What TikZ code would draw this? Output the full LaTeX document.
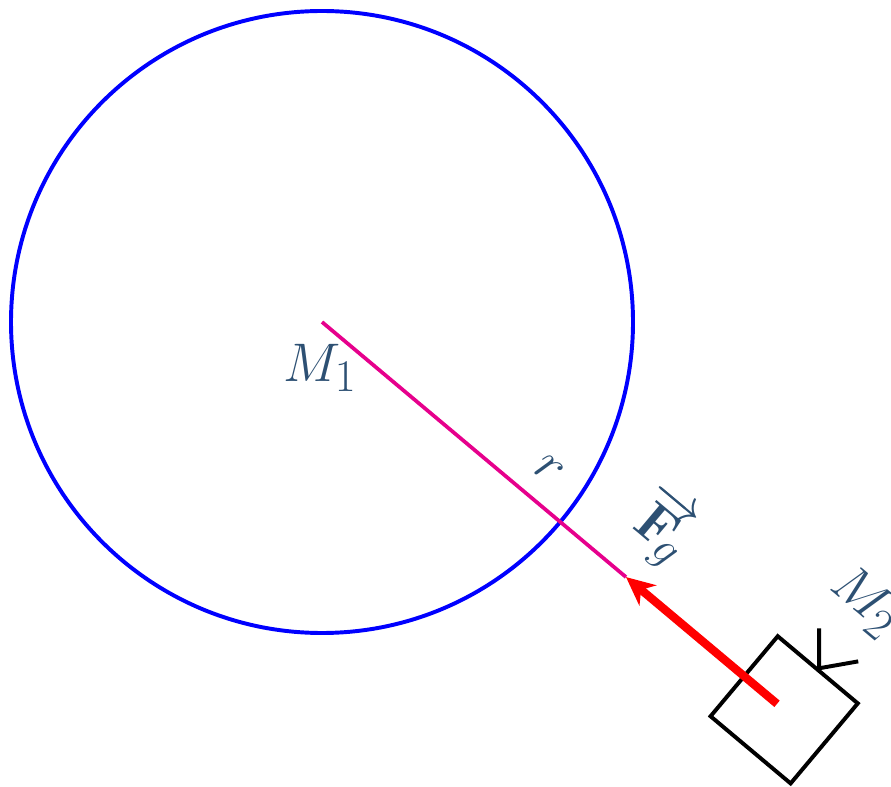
\documentclass[tikz,border=0pt]{standalone}
\usepackage{xcolor}
\usepackage{tikz}
\usetikzlibrary{arrows.meta,positioning,calc}

\definecolor{labelblue}{RGB}{45,80,115}
\definecolor{radline}{RGB}{230,0,140}

\tikzset{
  planet/.style={draw=blue, line width=1.8pt, circle, minimum size=10cm, inner sep=0pt},
  satbox/.style={draw=black, line width=1.8pt, minimum size=1.68cm, inner sep=0pt, rotate=-40},
  antenna/.style={draw=black, line width=1.8pt},
  radius line/.style={draw=radline, line width=1.7pt},
  force/.style={draw=red, line width=3.8pt, -{Stealth[length=13pt,width=12pt,inset=4pt]}},
  lbl/.style={text=labelblue, font=\Huge, rotate=-40},
}

\begin{document}
\begin{tikzpicture}
\useasboundingbox (-5.177,-7.460) rectangle (9.148,5.177);

% Planet
\coordinate (center) at (0,0);
\node[planet] (planet) at (center) {};
\node[text=labelblue, font=\Huge] (m1) at (-0.03,-0.74) {$M_1$};

% Satellite
\node[satbox] (sat) at (-40:9.7) {};
\draw[antenna] (sat.north) -- ++(90:0.64) (sat.north) -- ++(10:0.64);

% Radius and force
\coordinate (tip) at (-40:6.38);
\coordinate (push) at (-40:9.55);
\draw[radius line] (center) -- (tip);
\draw[force] (push) -- (tip);

% Labels
\node[lbl] (rlabel) at (3.65,-2.38) {$r$};
\node[lbl] (flabel) at (5.46,-3.30) {$\overrightarrow{\mathbf{F}}\mkern-5.5mu_g$};
\node[lbl] (m2) at (8.73,-4.50) {$M_2$};

\end{tikzpicture}
\end{document}
